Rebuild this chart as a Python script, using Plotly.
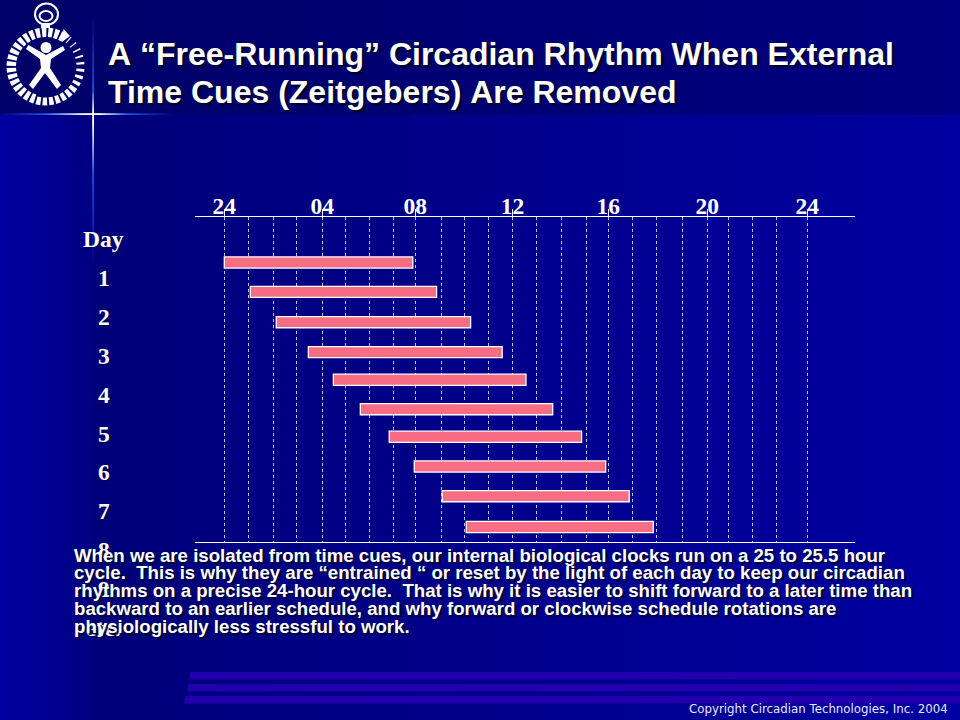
import math
import plotly.graph_objects as go

# ---- data (hours on the clock axis, rows counted from the first day) ----
sleep_start = [0, 1.07, 2.14, 3.46, 4.49, 5.60, 6.79, 7.82, 8.97, 9.96]
sleep_end = [7.76, 8.74, 10.14, 11.44, 12.42, 13.52, 14.71, 15.70, 16.67, 17.66]
sleep_row = [1, 2.0, 3.03, 4.05, 4.99, 5.99, 6.93, 7.94, 8.95, 10]
major_hours = [0, 4.03, 7.86, 11.86, 15.81, 19.88, 24]
major_labels = ["24", "04", "08", "12", "16", "20", "24"]
minor_hours = [0.99, 2.03, 2.96, 4.98, 5.97, 6.96, 8.93, 9.88, 10.87, 12.84,
               13.87, 14.90, 16.80, 17.79, 18.86, 20.75, 21.74, 22.73]
day_labels = ["Day", "1", "2", "3", "4", "5", "6", "7", "8", "9", "etc."]
title_lines = ["A “Free-Running” Circadian Rhythm When External",
               "Time Cues (Zeitgebers) Are Removed"]
body_lines = [
    "When we are isolated from time cues, our internal biological clocks run on a 25 to 25.5 hour",
    "cycle.  This is why they are “entrained “ or reset by the light of each day to keep our circadian",
    "rhythms on a precise 24-hour cycle.  That is why it is easier to shift forward to a later time than",
    "backward to an earlier schedule, and why forward or clockwise schedule rotations are",
    "physiologically less stressful to work.",
]
copyright_text = "Copyright Circadian Technologies, Inc. 2004"

W, H = 960, 720


def px(x):
    return x / W


def py(y):
    return 1 - y / H


def mix(a, b, t):
    t = max(0, min(1, t))
    return "rgb(%d,%d,%d)" % tuple(round(a[i] + (b[i] - a[i]) * t) for i in range(3))


def rect(x0, y0, x1, y1, color, layer="below"):
    return dict(type="rect", xref="paper", yref="paper", x0=px(x0), x1=px(x1),
                y0=py(y1), y1=py(y0), fillcolor=color, line_width=0, layer=layer)


def poly(points, color, layer="above"):
    d = "M" + " L".join("%.5f,%.5f" % (px(a), py(b)) for a, b in points) + " Z"
    return dict(type="path", xref="paper", yref="paper", path=d, fillcolor=color,
                line_width=0, layer=layer)


shapes = []

# background panels
def panel(x0, x1, y0, y1, c0, c1, step=16):
    x = x0
    while x < x1:
        nx = min(x + step, x1)
        shapes.append(rect(x, y0, nx + 0.5, y1, mix(c0, c1, (x - x0) / (x1 - x0))))
        x = nx


panel(0, 960, 0, 115, (0, 0, 104), (0, 0, 128))
panel(93, 960, 115, 720, (0, 0, 122), (0, 0, 160))
panel(0, 93, 115, 720, (0, 0, 160), (0, 0, 128), step=8)

# bottom stripes
for top, left in [(672, 189), (684, 187), (696, 184)]:
    shapes.append(poly([(left + 1.5, top), (960, top), (960, top + 7.5), (left, top + 7.5)],
                       "#2200AE", layer="below"))

# glow cross
BLUE = (32, 80, 225)
WHITE = (255, 255, 240)
for x in range(0, 172, 3):
    d = abs(x - 93)
    if x < 93:
        c = mix(WHITE, BLUE, (d - 10) / 40) if d < 50 else mix(BLUE, (0, 0, 122), (d - 50) / 43)
    else:
        c = mix(WHITE, BLUE, (d - 5) / 28) if d < 33 else mix(BLUE, (0, 0, 110), (d - 33) / 46)
    shapes.append(rect(x, 113.2, x + 3, 115, c))
for y in range(14, 262, 3):
    d = abs(y - 114)
    if y < 114:
        c = mix(WHITE, BLUE, (d - 3) / 22) if d < 25 else mix(BLUE, (0, 0, 110), (d - 25) / 75)
    else:
        c = mix(WHITE, BLUE, (d - 8) / 50) if d < 58 else mix(BLUE, (0, 0, 140), (d - 58) / 90)
    shapes.append(rect(92.2, y, 94, y + 3, c))

# stopwatch logo
CX, CY = 45.5, 66.5


def polar(r, deg):
    a = math.radians(deg)
    return CX + r * math.sin(a), CY - r * math.cos(a)


deg = 41
while deg < 128:  # fine ticks on the right side
    half = 0.9 + (deg - 50) / 80 * 2.2
    half = max(half, 0.9)
    shapes.append(poly([polar(31, deg - half), polar(39, deg - half),
                        polar(39, deg + half), polar(31, deg + half)], "white"))
    deg += 11
deg = 129
while deg < 390:  # thick part
    ri = 31 if deg < 200 else 29.5
    shapes.append(poly([polar(ri, deg - 3.6), polar(39, deg - 3.6),
                        polar(39, deg + 3.6), polar(ri, deg + 3.6)], "white"))
    deg += 10.4
# arrow head
shapes.append(poly([(63.5, 29), (70, 36), (62, 42)], "white"))
# crown
shapes.append(dict(type="circle", xref="paper", yref="paper", x0=px(35), x1=px(58),
                   y0=py(25), y1=py(3.5), line=dict(color="white", width=2), layer="above"))
shapes.append(dict(type="circle", xref="paper", yref="paper", x0=px(39.5), x1=px(52.5),
                   y0=py(21), y1=py(11), line=dict(color="white", width=2), layer="above"))
shapes.append(poly([(41, 23), (50, 23), (50, 28), (41, 28)], "white"))
# figure
shapes.append(dict(type="circle", xref="paper", yref="paper", x0=px(40.5), x1=px(51.5),
                   y0=py(53), y1=py(42), fillcolor="white", line_width=0, layer="above"))
shapes.append(poly([(28.5, 45), (26, 49), (40, 59), (41, 68), (29, 85), (33, 89), (45, 73),
                    (57, 89), (61, 85), (50, 68), (51, 59), (65, 50), (63, 46), (46, 55)],
                   "white"))

annotations = []


def text(x, y, s, size, family, anchor="left", weight="bold", shadow="none", color="white"):
    annotations.append(dict(xref="paper", yref="paper", x=px(x), y=py(y), text=s,
                            showarrow=False, xanchor=anchor, yanchor="middle", align=anchor,
                            font=dict(size=size, family=family, weight=weight, color=color,
                                      shadow=shadow)))


for i, s in enumerate(day_labels):
    text(103.5, 239 + i * 38.9, s, 23.5, "Liberation Serif", "center", shadow="1px 1px 1px #000040")
for i, s in enumerate(title_lines):
    text(106, [54, 92][i], s.replace(" ", "\u00a0"), 32, "Liberation Sans", shadow="2px 2px 2px #000020")
for i, s in enumerate(body_lines):
    text(72, 555 + i * 17.9, s.replace("  ", "\u00a0\u00a0"), 18.65, "Liberation Sans",
         shadow="2px 2px 1px #000030")
text(687, 708.5, copyright_text, 11.8, "DejaVu Sans", weight="normal", color="#e8e8ff")

GRID = "rgba(255,255,255,0.75)"
fig = go.Figure(go.Bar(
    orientation="h",
    y=sleep_row,
    base=sleep_start,
    x=[e - s for s, e in zip(sleep_start, sleep_end)],
    width=0.38,
    marker=dict(color="#F76D84", line=dict(color="white", width=1.3)),
    hoverinfo="skip",
))
fig.update_layout(
    width=W, height=H,
    autosize=False,
    margin=dict(l=0, r=0, t=0, b=0),
    paper_bgcolor="#000080",
    plot_bgcolor="rgba(0,0,0,0)",
    showlegend=False,
    shapes=shapes,
    annotations=annotations,
    xaxis=dict(
        domain=[195 / W, 855 / W],
        range=[-1.206, 25.965],
        side="top",
        showline=True, linecolor="white", linewidth=1, mirror=True,
        tickmode="array", tickvals=major_hours, ticktext=major_labels,
        ticks="outside", ticklen=7, tickcolor="white", tickwidth=1,
        ticklabelstandoff=-14,
        tickfont=dict(family="Liberation Serif", size=23.5, color="white", weight="bold"),
        showgrid=True, gridcolor=GRID, griddash="dot", gridwidth=1,
        zeroline=False,
        minor=dict(tickmode="array", tickvals=minor_hours, showgrid=True,
                   gridcolor=GRID, griddash="dot", gridwidth=1, ticks=""),
    ),
    yaxis=dict(
        domain=[1 - 542 / H, 1 - 217 / H],
        range=[10.51, -0.548],
        visible=False,
        showgrid=False, zeroline=False,
    ),
)
fig.write_html("out.html", config=dict(displayModeBar=False),
               post_script="document.body.style.margin='0';document.body.style.overflow='hidden';document.documentElement.style.background='#000080';")
